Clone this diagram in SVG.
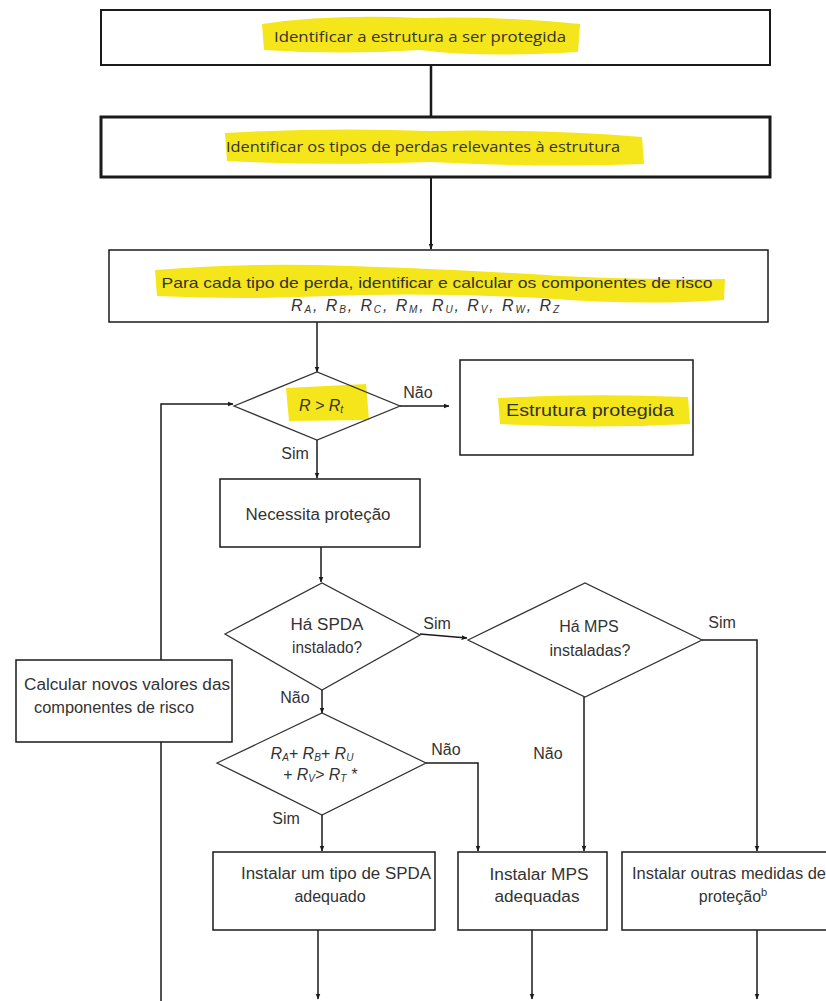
<svg xmlns="http://www.w3.org/2000/svg" width="826" height="1001" viewBox="0 0 826 1001">
<style>
.box{fill:none;stroke:#1a1a1a;stroke-width:1.5}
.dia{fill:none;stroke:#333;stroke-width:1.3}
.ln{fill:none;stroke:#1a1a1a;stroke-width:1.5}
.hl{fill:#f5e51b}
.t{font-family:"Liberation Sans",Arial,sans-serif;font-size:16px;fill:#333;text-anchor:middle}
.c{font-family:"Open Sans","Liberation Sans",sans-serif;font-size:15px;fill:#333;text-anchor:middle}
.i{font-style:italic}
.s{font-size:10px}
</style>
<defs>
<marker id="ah" viewBox="0 0 10 10" refX="9" refY="5" markerWidth="6" markerHeight="6" orient="auto" markerUnits="userSpaceOnUse">
<path d="M0,1 L10,5 L0,9 z" fill="#1a1a1a"/>
</marker>
</defs>
<rect width="826" height="1001" fill="#fff"/>

<g id="connectors">
<line class="ln" x1="431" y1="65" x2="431" y2="117" style="stroke-width:2.5"/>
<line class="ln" x1="431" y1="177" x2="431" y2="249" marker-end="url(#ah)" style="stroke-width:2"/>
<line class="ln" x1="317" y1="322" x2="317" y2="372" marker-end="url(#ah)"/>
<line class="ln" x1="400" y1="406" x2="449" y2="406" marker-end="url(#ah)"/>
<line class="ln" x1="317" y1="440" x2="317" y2="478" marker-end="url(#ah)"/>
<line class="ln" x1="321" y1="547" x2="321" y2="582" marker-end="url(#ah)"/>
<line class="ln" x1="420" y1="634" x2="467" y2="638" marker-end="url(#ah)"/>
<polyline class="ln" points="702,640 757,640 757,851" marker-end="url(#ah)"/>
<line class="ln" x1="584" y1="697" x2="584" y2="851" marker-end="url(#ah)"/>
<line class="ln" x1="322" y1="690" x2="322" y2="713" marker-end="url(#ah)"/>
<polyline class="ln" points="426,763 478,763 478,851" marker-end="url(#ah)"/>
<line class="ln" x1="322" y1="815" x2="322" y2="851" marker-end="url(#ah)"/>
<line class="ln" x1="318" y1="930" x2="318" y2="999" marker-end="url(#ah)"/>
<line class="ln" x1="532" y1="930" x2="532" y2="999" marker-end="url(#ah)"/>
<line class="ln" x1="757" y1="930" x2="757" y2="999" marker-end="url(#ah)"/>
<line class="ln" x1="161" y1="1001" x2="161" y2="742"/>
<polyline class="ln" points="161,660 161,404 233,404" marker-end="url(#ah)"/>
<g class="t">
<text x="418" y="398">Não</text>
<text x="295" y="459">Sim</text>
<text x="437" y="629">Sim</text>
<text x="722" y="628">Sim</text>
<text x="295" y="703">Não</text>
<text x="446" y="755">Não</text>
<text x="548" y="759">Não</text>
<text x="286" y="824">Sim</text>
</g>
</g>

<g id="n1">
<path class="hl" d="M262,24 Q330,14 420,18 Q500,16 580,24 L578,52 Q480,58 420,50 Q340,55 264,50 Z"/>
<rect class="box" x="101" y="10" width="669" height="55" style="stroke-width:2"/>
<text class="c" x="420" y="42" textLength="292" lengthAdjust="spacingAndGlyphs">Identificar a estrutura a ser protegida</text>
</g>

<g id="n2">
<path class="hl" d="M225,133 Q330,127 430,131 Q540,129 642,137 L644,164 Q540,168 430,162 Q320,166 227,161 Z"/>
<rect class="box" x="101" y="117" width="669" height="60" style="stroke-width:3"/>
<text class="c" x="423" y="152" textLength="394" lengthAdjust="spacingAndGlyphs">Identificar os tipos de perdas relevantes à estrutura</text>
</g>

<g id="n3">
<path class="hl" d="M155,270 Q250,262 350,266 Q470,270 560,276 Q650,280 725,279 L724,300 Q640,306 540,298 Q420,292 330,296 Q240,300 157,296 Z"/>
<rect class="box" x="109" y="250" width="659" height="72"/>
<text class="t" x="437" y="288" textLength="551" lengthAdjust="spacingAndGlyphs" style="font-size:15px">Para cada tipo de perda, identificar e  calcular os componentes de risco</text>
<text class="t i" x="425" y="311" textLength="268"><tspan>R</tspan><tspan class="s" dy="2">A</tspan><tspan dy="-2">,  R</tspan><tspan class="s" dy="2">B</tspan><tspan dy="-2">,  R</tspan><tspan class="s" dy="2">C</tspan><tspan dy="-2">,  R</tspan><tspan class="s" dy="2">M</tspan><tspan dy="-2">,  R</tspan><tspan class="s" dy="2">U</tspan><tspan dy="-2">,  R</tspan><tspan class="s" dy="2">V</tspan><tspan dy="-2">,  R</tspan><tspan class="s" dy="2">W</tspan><tspan dy="-2">,    R</tspan><tspan class="s" dy="2">Z</tspan></text>
</g>

<g id="d1">
<path class="hl" d="M286,388 L366,384 L369,420 L289,421 Z"/>
<polygon class="dia" points="234,406 317,372 400,406 317,440"/>
<text class="t i" x="321" y="411">R &gt; R<tspan class="s" dy="2">t</tspan></text>
</g>

<g id="n4">
<path class="hl" d="M498,398 Q590,393 688,397 L690,424 Q590,429 500,424 Z"/>
<rect class="box" x="460" y="360" width="233" height="95"/>
<text class="t" x="590" y="416" textLength="168" lengthAdjust="spacingAndGlyphs">Estrutura protegida</text>
</g>

<g id="n5">
<rect class="box" x="220" y="479" width="200" height="68"/>
<text class="t" x="318" y="520" textLength="145" lengthAdjust="spacingAndGlyphs">Necessita proteção</text>
</g>

<g id="d2">
<polygon class="dia" points="225,634 322,583 420,635 322,690"/>
<text class="t" x="327" y="630" textLength="73" lengthAdjust="spacingAndGlyphs">Há SPDA</text>
<text class="t" x="327" y="653" textLength="70" lengthAdjust="spacingAndGlyphs">instalado?</text>
</g>

<g id="d3">
<polygon class="dia" points="468,640 585,583 702,640 585,697"/>
<text class="t" x="589" y="632">Há MPS</text>
<text class="t" x="590" y="656">instaladas?</text>
</g>

<g id="n6">
<rect class="box" x="16" y="660" width="216" height="82"/>
<text class="t" x="127" y="690" textLength="206" lengthAdjust="spacingAndGlyphs">Calcular novos valores das</text>
<text class="t" x="114" y="713" textLength="160" lengthAdjust="spacingAndGlyphs">componentes de risco</text>
</g>

<g id="d4">
<polygon class="dia" points="217,763 322,713 426,763 322,815"/>
<text class="t i" x="312" y="759">R<tspan class="s" dy="2">A</tspan><tspan dy="-2">+ R</tspan><tspan class="s" dy="2">B</tspan><tspan dy="-2">+ R</tspan><tspan class="s" dy="2">U</tspan></text>
<text class="t i" x="320" y="780">+ R<tspan class="s" dy="2">V</tspan><tspan dy="-2">&gt; R</tspan><tspan class="s" dy="2">T</tspan><tspan dy="-2"> *</tspan></text>
</g>

<g id="n7">
<rect class="box" x="213" y="852" width="222" height="78"/>
<text class="t" x="336" y="879" textLength="190" lengthAdjust="spacingAndGlyphs">Instalar um tipo de SPDA</text>
<text class="t" x="330" y="902">adequado</text>
</g>

<g id="n8">
<rect class="box" x="458" y="852" width="149" height="78"/>
<text class="t" x="539" y="880" textLength="99" lengthAdjust="spacingAndGlyphs">Instalar MPS</text>
<text class="t" x="537" y="902" textLength="85" lengthAdjust="spacingAndGlyphs">adequadas</text>
</g>

<g id="n9">
<rect class="box" x="622" y="852" width="220" height="78"/>
<text class="t" x="729" y="879" textLength="194" lengthAdjust="spacingAndGlyphs">Instalar outras medidas de</text>
<text class="t" x="733" y="902">proteção<tspan class="s" dy="-6" style="font-size:11px">b</tspan></text>
</g>
</svg>
